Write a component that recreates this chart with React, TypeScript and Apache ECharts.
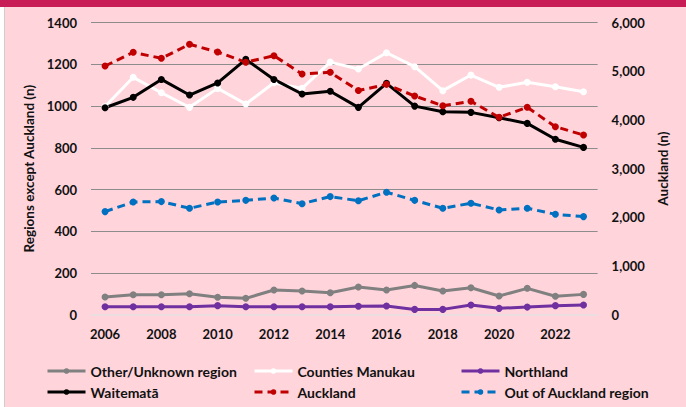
import React, { useEffect, useRef } from "react";
import * as echarts from "echarts";

const years = ["2006","2007","2008","2009","2010","2011","2012","2013","2014","2015","2016","2017","2018","2019","2020","2021","2022","2023"];
const otherUnknown = [84, 95, 95, 100, 83, 78, 118, 113, 105, 132, 118, 140, 113, 129, 89, 126, 88, 97];
const countiesManukau = [998, 1138, 1064, 994, 1085, 1010, 1112, 1085, 1211, 1178, 1256, 1189, 1074, 1149, 1090, 1114, 1093, 1069];
const northland = [38, 38, 38, 38, 43, 38, 38, 38, 38, 40, 41, 25, 25, 46, 30, 36, 43, 46];
const waitemata = [992, 1042, 1128, 1053, 1111, 1224, 1128, 1058, 1071, 994, 1109, 1000, 973, 970, 944, 917, 841, 802];
const auckland = [5110, 5391, 5268, 5556, 5398, 5186, 5322, 4946, 4980, 4605, 4733, 4493, 4294, 4384, 4055, 4261, 3862, 3692];
const outOfAuckland = [494, 540, 542, 510, 540, 548, 559, 532, 566, 546, 587, 548, 510, 534, 502, 510, 481, 470];

const FONT = "Lato";

export default function App() {
  const ref = useRef<HTMLDivElement>(null);
  useEffect(() => {
    if (!ref.current) return;
    const chart = echarts.init(ref.current, null, { renderer: "svg" });
    const mk = (name: string, data: number[], color: string, dashed: boolean, axis = 0) => ({
      name,
      type: "line",
      data,
      yAxisIndex: axis,
      symbol: "circle",
      symbolSize: 7,
      color,
      itemStyle: { color },
      lineStyle: { color, width: 3, type: dashed ? [8, 5] : "solid" },
      z: 3,
    });
    const legendItem = (name: string, left: number, top: number) => ({
      data: [name],
      left,
      top,
      padding: 0,
      itemWidth: 38,
      itemHeight: 7,
      itemGap: 0,
      lineStyle: { width: 3 },
      textStyle: { fontFamily: FONT, fontWeight: "bold", fontSize: 14, color: "#111" },
    });
    chart.setOption({
      animation: false,
      backgroundColor: "transparent",
      graphic: [
        { type: "rect", shape: { x: 0, y: 0, width: 686, height: 407 }, style: { fill: "#ffffff" }, z: -10 },
        { type: "rect", shape: { x: 5, y: 7, width: 681, height: 400 }, style: { fill: "#FFD4DB" }, z: -10 },
        { type: "line", shape: { x1: 4.5, y1: 7, x2: 4.5, y2: 407 }, style: { stroke: "#d6cacc", lineWidth: 1 }, z: -9 },
        { type: "rect", shape: { x: 0, y: 0, width: 686, height: 7 }, style: { fill: "#C71C55" }, z: -9 },
      ],
      grid: { left: 91, right: 88.4, top: 22.7, bottom: 92.4 },
      xAxis: {
        type: "category",
        data: years,
        boundaryGap: true,
        axisTick: { show: false },
        axisLine: { show: true, lineStyle: { color: "#e9dfe2", width: 1.5 } },
        axisLabel: { interval: 1, margin: 13, fontFamily: FONT, fontWeight: "bold", fontSize: 13, color: "#111" },
      },
      yAxis: [
        {
          type: "value",
          min: 0,
          max: 1400,
          interval: 200,
          name: "Regions except Auckland (n)",
          nameLocation: "middle",
          nameRotate: 90,
          nameGap: 37,
          nameTextStyle: { fontFamily: FONT, fontWeight: "bold", fontSize: 13.5, color: "#111" },
          axisLine: { show: false },
          axisTick: { show: false },
          axisLabel: {
            margin: 14,
            fontFamily: FONT,
            fontWeight: "bold",
            fontSize: 13,
            color: "#111",
            formatter: (v: number) => String(v),
          },
          splitLine: {
            show: true,
            lineStyle: { color: ["#e9dfe2", "#8c8c8c", "#8c8c8c", "#8c8c8c", "#8c8c8c", "#8c8c8c", "#8c8c8c", "#8c8c8c"], width: 1 },
          },
        },
        {
          type: "value",
          min: 0,
          max: 6000,
          interval: 1000,
          position: "right",
          name: "Auckland (n)",
          nameLocation: "middle",
          nameRotate: 90,
          nameGap: 53,
          nameTextStyle: { fontFamily: FONT, fontWeight: "bold", fontSize: 13.5, color: "#111" },
          axisLine: { show: false },
          axisTick: { show: false },
          splitLine: { show: false },
          axisLabel: {
            margin: 14,
            fontFamily: FONT,
            fontWeight: "bold",
            fontSize: 13,
            color: "#111",
            formatter: (v: number) => v.toLocaleString("en-US"),
          },
        },
      ],
      legend: [
        legendItem("Other/Unknown region", 46, 364),
        legendItem("Counties Manukau", 253, 364),
        legendItem("Northland", 460, 364),
        legendItem("Waitematā", 46, 385),
        legendItem("Auckland", 253, 385),
        legendItem("Out of Auckland region", 460, 385),
      ],
      series: [
        mk("Other/Unknown region", otherUnknown, "#808080", false),
        mk("Counties Manukau", countiesManukau, "#ffffff", false),
        mk("Northland", northland, "#7030A0", false),
        mk("Waitematā", waitemata, "#000000", false),
        mk("Auckland", auckland, "#C00000", true, 1),
        mk("Out of Auckland region", outOfAuckland, "#0070C0", true),
      ],
    });
    return () => chart.dispose();
  }, []);
  return (
    <div
      ref={ref}
      style={{ position: "fixed", left: 0, top: 0, width: 686, height: 407, background: "#ffffff" }}
    />
  );
}
